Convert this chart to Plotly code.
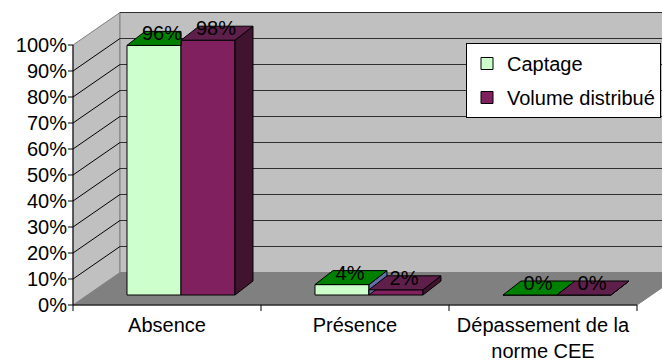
import plotly.graph_objects as go

# ---------------- data ----------------
categories = ["Absence", "Présence", "Dépassement de la<br>norme CEE"]
series_names = ["Captage", "Volume distribué"]
captage = [0.96, 0.04, 0.00]
volume = [0.98, 0.02, 0.00]
ytick_vals = [i / 10 for i in range(11)]
ytick_text = [f"{i * 10}%" for i in range(11)]

# ---------------- style / geometry ----------------
PX_X = 188.0            # pixels per category unit
PX_Y = 260.0            # pixels per 100 %
WALL_DX, WALL_DY = 47 / PX_X, 32.5 / PX_Y       # depth of the 3D box
FRONT_DY = 10 / PX_Y                             # bar front offset into the box
BAR_DX, BAR_DY = 18 / PX_X, 14 / PX_Y           # bar depth
BAR_W = 54 / PX_X
BAR_START = -0.2128                              # captage bar front-left edge rel. to category centre
LBL_DX, LBL_DY = 8 / PX_X, 10 / PX_Y

front_colors = ["#CCFFCC", "#80205F"]
top_colors = ["#008000", "#5E1F4A"]
side_colors = ["#6070A8", "#40132E"]
WALL = "#C0C0C0"
FLOOR = "#808080"
EDGE = "#808080"
FONT = "Liberation Sans, Arial, sans-serif"

xs = list(range(len(categories)))
x_lo, x_hi = -0.5, len(categories) - 0.5

fig = go.Figure()
shapes = []


def poly(points, fill, line_color, width=1):
    path = "M " + " L ".join(f"{x},{y}" for x, y in points) + " Z"
    return dict(type="path", path=path, xref="x", yref="y", layer="below",
                fillcolor=fill, line=dict(color=line_color, width=width))


def seg(x0, y0, x1, y1, color, width=1):
    return dict(type="line", x0=x0, y0=y0, x1=x1, y1=y1, xref="x", yref="y",
                layer="below", line=dict(color=color, width=width))


# floor
shapes.append(poly([(x_lo, 0), (x_hi, 0), (x_hi + WALL_DX, WALL_DY), (x_lo + WALL_DX, WALL_DY)], FLOOR, EDGE))
# left wall
shapes.append(poly([(x_lo, 0), (x_lo, 1), (x_lo + WALL_DX, 1 + WALL_DY), (x_lo + WALL_DX, WALL_DY)], WALL, EDGE))
# back wall
shapes.append(poly([(x_lo + WALL_DX, WALL_DY), (x_lo + WALL_DX, 1 + WALL_DY),
                    (x_hi + WALL_DX, 1 + WALL_DY), (x_hi + WALL_DX, WALL_DY)], WALL, EDGE))
# gridlines
for v in ytick_vals[1:]:
    shapes.append(seg(x_lo + WALL_DX, v + WALL_DY, x_hi + WALL_DX, v + WALL_DY, "#303030"))
    if v < 1:
        shapes.append(seg(x_lo, v, x_lo + WALL_DX, v + WALL_DY, "#000000"))
# axes
shapes.append(seg(x_lo, 0, x_lo, 1, "#000000"))
shapes.append(seg(x_lo, 0, x_hi, 0, "#000000"))
for v in ytick_vals:
    shapes.append(seg(x_lo - 5 / PX_X, v, x_lo, v, "#000000"))
for i in range(len(categories) + 1):
    xb = x_lo + i
    shapes.append(seg(xb, 0, xb, -6 / PX_Y, "#000000"))

series = [captage, volume]

# bar front faces (library bars)
for s, vals in enumerate(series):
    fig.add_trace(go.Bar(
        x=xs, y=vals, base=[FRONT_DY] * len(vals),
        width=BAR_W, offset=BAR_START + s * BAR_W,
        marker=dict(color=front_colors[s], line=dict(color="black", width=1)),
        name=series_names[s], legendgroup=series_names[s], hoverinfo="skip",
    ))

# 3D tops and sides
for c in xs:
    for s, vals in enumerate(series):
        v = vals[c]
        x0 = c + BAR_START + s * BAR_W
        x1 = x0 + BAR_W
        b = FRONT_DY
        t = b + v
        nxt = series[s + 1][c] if s + 1 < len(series) else None
        if nxt is None or nxt < v:
            side = [(x1, b), (x1, t), (x1 + BAR_DX, t + BAR_DY), (x1 + BAR_DX, b + BAR_DY), (x1, b)]
            fig.add_trace(go.Scatter(x=[p[0] for p in side], y=[p[1] for p in side],
                                     mode="lines", fill="toself", fillcolor=side_colors[s],
                                     line=dict(color="black", width=1), showlegend=False,
                                     hoverinfo="skip"))
        if nxt is not None and nxt > v:
            top = [(x0, t), (x1, t), (x1, t + BAR_DY), (x0 + BAR_DX, t + BAR_DY), (x0, t)]
        else:
            top = [(x0, t), (x1, t), (x1 + BAR_DX, t + BAR_DY), (x0 + BAR_DX, t + BAR_DY), (x0, t)]
        fig.add_trace(go.Scatter(x=[p[0] for p in top], y=[p[1] for p in top],
                                 mode="lines", fill="toself", fillcolor=top_colors[s],
                                 line=dict(color="black", width=1), showlegend=False,
                                 hoverinfo="skip"))

# data labels
for s, vals in enumerate(series):
    lx = [c + BAR_START + s * BAR_W + BAR_W / 2 + LBL_DX for c in xs]
    ly = [FRONT_DY + v + LBL_DY for v in vals]
    fig.add_trace(go.Scatter(x=lx, y=ly, mode="text", text=[f"{round(v * 100)}%" for v in vals],
                             textposition="middle center",
                             textfont=dict(family=FONT, size=20, color="black"),
                             showlegend=False, hoverinfo="skip", cliponaxis=False))

L, R, T, B = 68, 0, 10, 51
W, H = 662, 362
plot_w = W - L - R
plot_h = H - T - B
x_min = x_lo - 5 / PX_X
y_min = -6 / PX_Y

fig.update_layout(
    width=W, height=H,
    margin=dict(l=L, r=R, t=T, b=B, autoexpand=False),
    paper_bgcolor="white", plot_bgcolor="white",
    barmode="overlay",
    shapes=shapes,
    font=dict(family=FONT, size=20, color="black"),
    xaxis=dict(range=[x_min, x_min + plot_w / PX_X], tickvals=xs, ticktext=categories,
               showgrid=False, zeroline=False, showline=False, ticks="",
               tickfont=dict(size=20), fixedrange=True),
    yaxis=dict(range=[y_min, y_min + plot_h / PX_Y], tickvals=ytick_vals, ticktext=ytick_text,
               showgrid=False, zeroline=False, showline=False, ticks="",
               tickfont=dict(size=20), fixedrange=True),
    legend=dict(x=(466 - L) / plot_w, y=(H - B - 43) / plot_h, xanchor="left", yanchor="top",
                bgcolor="white", bordercolor="black", borderwidth=1,
                font=dict(size=20), tracegroupgap=5),
    showlegend=True,
)

fig.write_html("out.html")
